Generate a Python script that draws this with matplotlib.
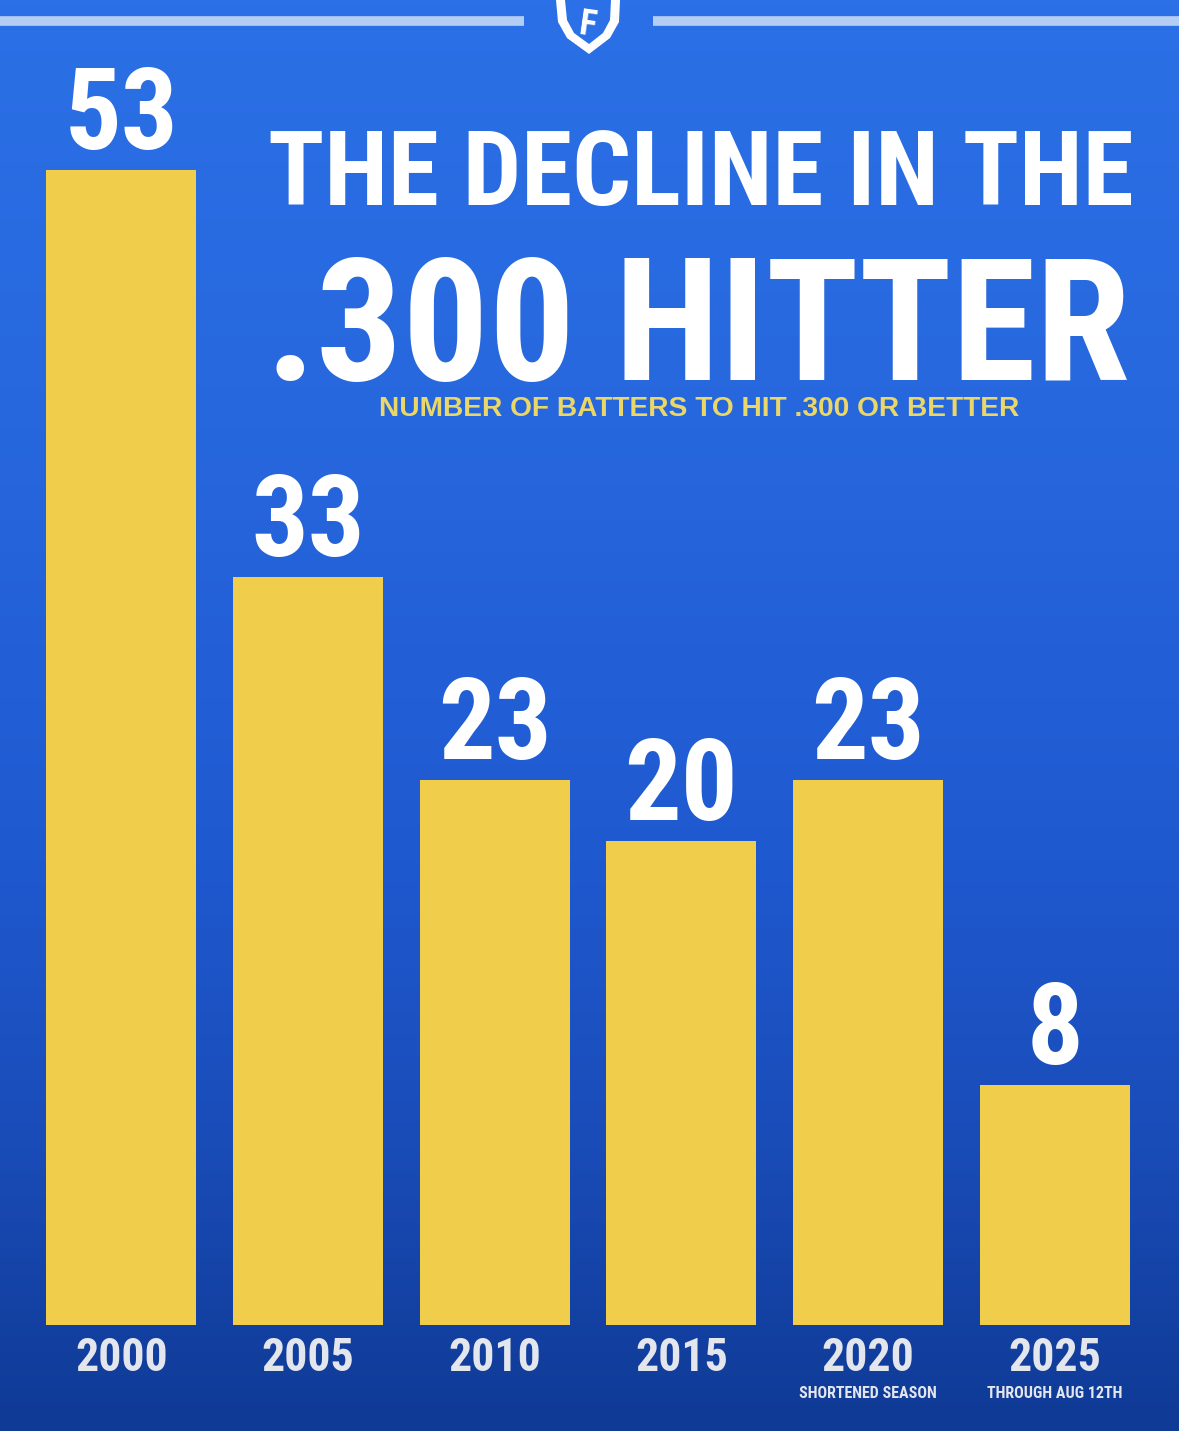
import matplotlib
matplotlib.use("Agg")
import matplotlib.pyplot as plt
import numpy as np
from matplotlib import font_manager
from matplotlib.colors import LinearSegmentedColormap
from matplotlib.patches import Polygon

years = ['2000', '2005', '2010', '2015', '2020', '2025']
hitters = [53, 33, 23, 20, 23, 8]
notes = ['', '', '', '', 'SHORTENED SEASON', 'THROUGH AUG 12TH']
title_1 = 'THE DECLINE IN THE'
title_2 = '.300 HITTER'
subtitle = 'NUMBER OF BATTERS TO HIT .300 OR BETTER'

W, H = 1179, 1431
installed = {f.name for f in font_manager.fontManager.ttflist}


def pick(cands):
    for c in cands:
        if c in installed:
            return c
    return 'DejaVu Sans'


narrow = pick(['Liberation Sans Narrow', 'Roboto Condensed', 'DejaVu Sans'])
wide = pick(['Liberation Sans', 'Roboto', 'DejaVu Sans'])

bar_col = '#F0CE4B'
white = '#FFFFFF'
label_col = '#E4E6EE'
yellow = '#EAD768'

fig = plt.figure(figsize=(W / 100, H / 100), dpi=100)


def fx(x):
    return x / W


def fy(y):
    return 1 - y / H


# background gradient
bg = fig.add_axes([0, 0, 1, 1], zorder=0)
cmap = LinearSegmentedColormap.from_list('bg', [(0, '#2B70E6'), (0.3, '#2767DE'),
                                                (0.6, '#1F59D0'), (0.8, '#1A4CB8'),
                                                (1, '#0F3A95')])
grad = np.linspace(0, 1, 256).reshape(-1, 1)
bg.imshow(grad, aspect='auto', cmap=cmap, extent=[0, 1, 0, 1], origin='upper')
bg.set_xlim(0, 1)
bg.set_ylim(0, 1)
bg.axis('off')

# top decoration
bg.plot([0, fx(524)], [fy(21), fy(21)], color='#B3CDF3', lw=7, solid_capstyle='butt')
bg.plot([fx(653), 1], [fy(21), fy(21)], color='#B3CDF3', lw=7, solid_capstyle='butt')
shield = [(556, 0), (620, 0), (619, 22), (610, 38), (589, 54), (567, 38), (558, 22)]
bg.add_patch(Polygon([(fx(x), fy(y)) for x, y in shield], closed=True,
                     facecolor=white, edgecolor='none'))
inner = [(565, 0), (611, 0), (610, 20), (603, 33), (589, 44), (574, 33), (567, 20)]
bg.add_patch(Polygon([(fx(x), fy(y)) for x, y in inner], closed=True,
                     facecolor='#2B70E6', edgecolor='none'))
bg.text(fx(588), fy(36), 'F', color=white, fontsize=26, fontweight='bold',
        family=narrow, ha='center', va='baseline', rotation=-8)

# bars
base = -3.8
ax = fig.add_axes([fx(28), fy(1325), fx(1148) - fx(28), fy(170) - fy(1325)], zorder=1)
ax.patch.set_alpha(0)
x = np.arange(len(years))
ax.bar(x, [v - base for v in hitters], bottom=base, width=0.805, color=bar_col)
ax.set_xlim(-0.5, len(years) - 0.5)
ax.set_ylim(base, 53)
for s in ax.spines.values():
    s.set_visible(False)
ax.set_yticks([])
ax.set_xticks(x, labels=years)
ax.tick_params(axis='x', length=0, pad=8, labelcolor=label_col)
for t in ax.get_xticklabels():
    t.set_fontsize(33)
    t.set_fontweight('bold')
    t.set_family(narrow)

for i, v in enumerate(hitters):
    ax.annotate(str(v), xy=(i, v), xytext=(0, 21), textcoords='offset pixels',
                ha='center', va='baseline', color=white, fontsize=81,
                fontweight='bold', family=narrow, clip_on=False)
    if notes[i]:
        ax.annotate(notes[i], xy=(i, 0), xycoords=('data', 'axes fraction'),
                    xytext=(0, -73), textcoords='offset pixels', ha='center',
                    va='baseline', color=label_col, fontsize=11.5,
                    fontweight='bold', family=narrow)

# titles
t1 = fig.text(fx(268), fy(205), title_1, color=white, fontsize=95, fontweight='bold',
              family=narrow, ha='left', va='baseline', zorder=3)
t2 = fig.text(fx(266), fy(380), title_2, color=white, fontsize=150, fontweight='bold',
              family=narrow, ha='left', va='baseline', zorder=3)
t3 = fig.text(fx(699), fy(416), subtitle, color=yellow, fontsize=17, fontweight='bold',
              family=wide, ha='center', va='baseline', zorder=3)

# fit titles to their widths in the reference
r = fig.canvas.get_renderer()
for t, width, grow in [(t1, 866, False), (t2, 864, False), (t3, 642, True)]:
    w = t.get_window_extent(renderer=r).width
    if w > width or grow:
        t.set_fontsize(t.get_fontsize() * width / w)

fig.savefig('out.png', dpi=100)
